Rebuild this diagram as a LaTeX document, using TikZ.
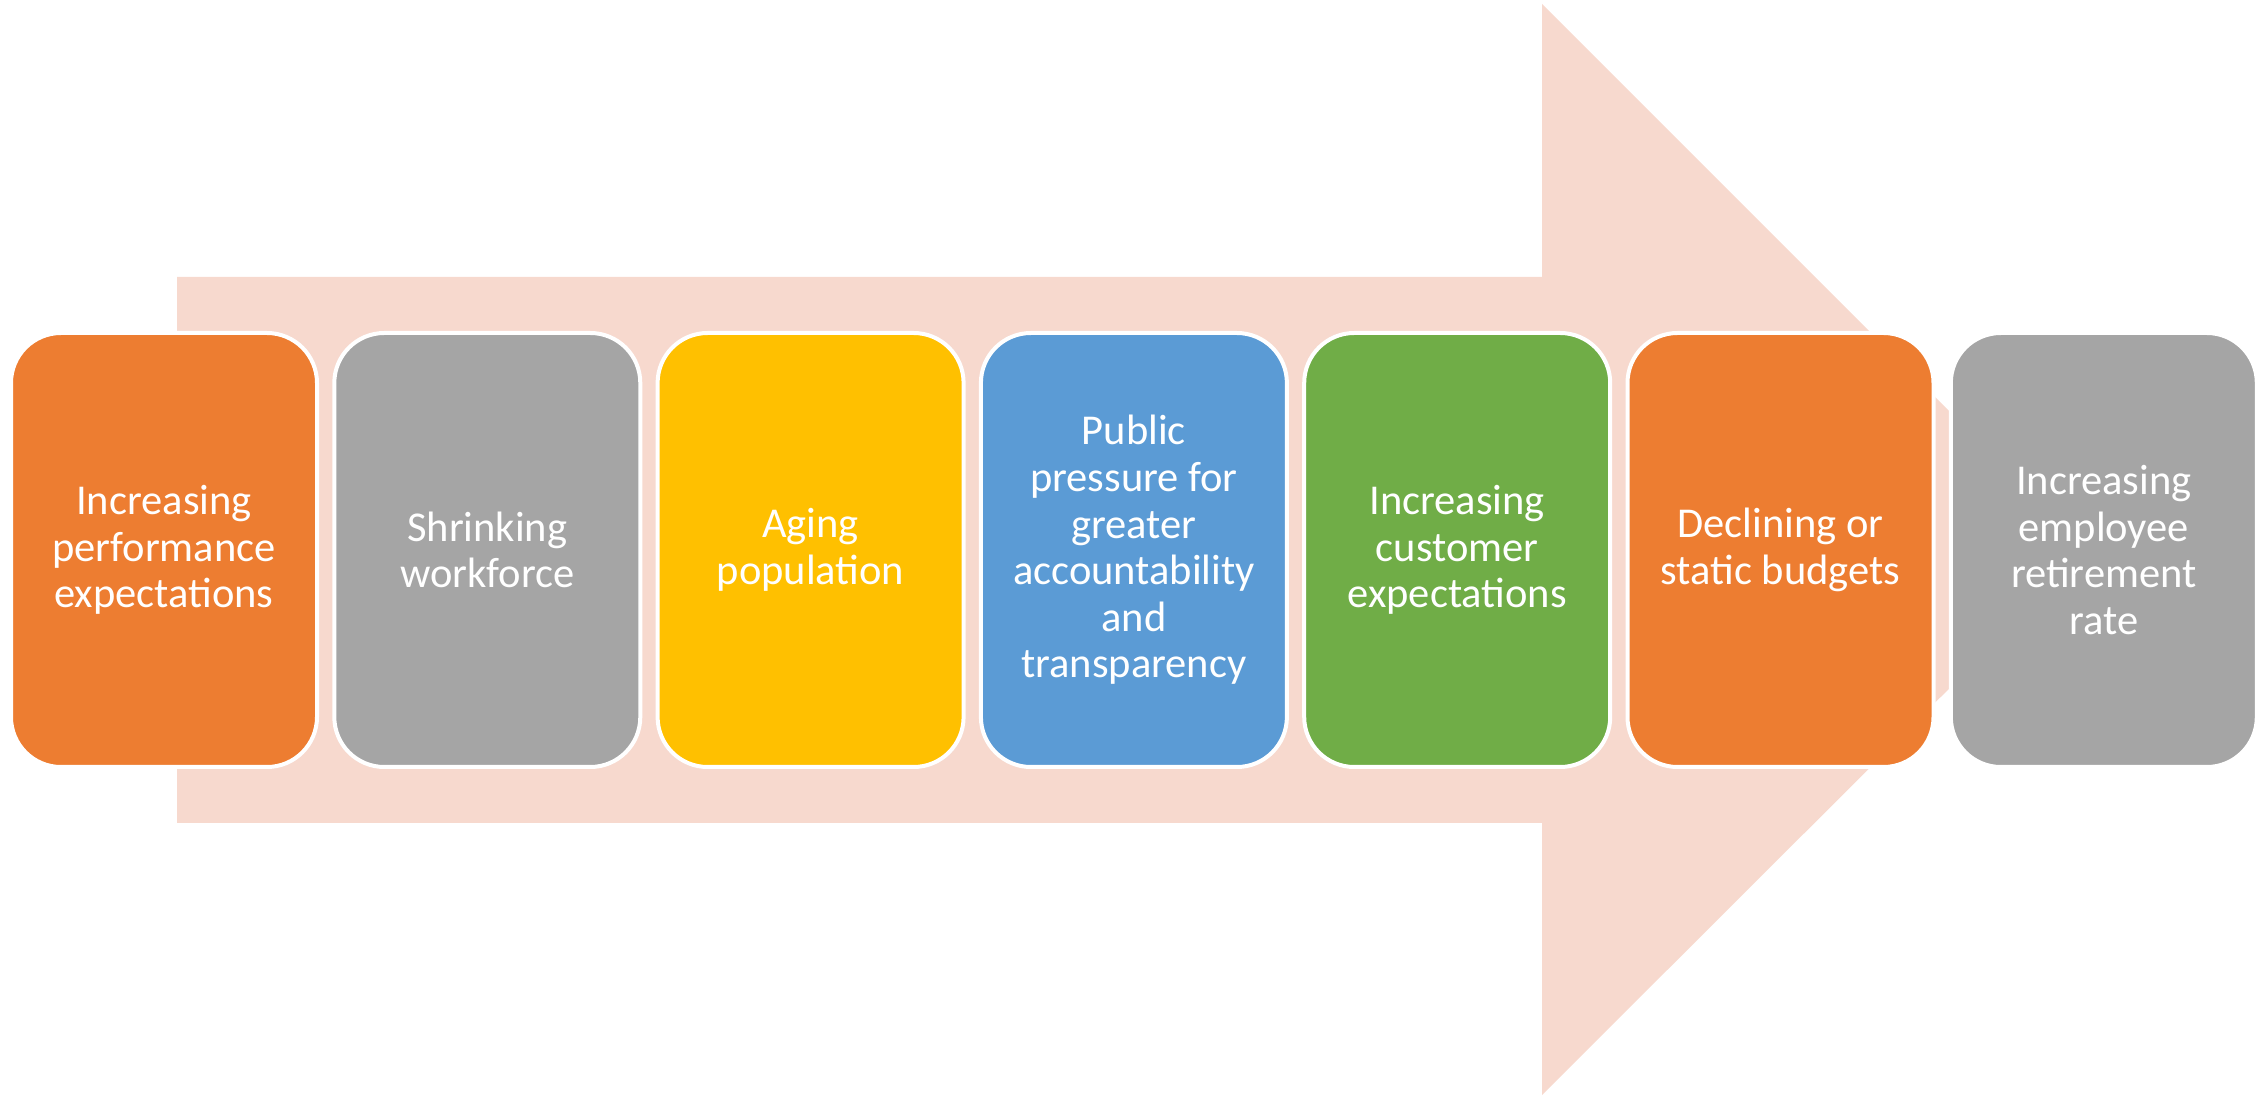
\documentclass[tikz,border=0pt]{standalone}
\usepackage{fontspec}
\setmainfont{Carlito}
\usetikzlibrary{positioning}

\definecolor{accorange}{RGB}{237,125,49}
\definecolor{accgray}{RGB}{165,165,165}
\definecolor{accyellow}{RGB}{255,192,0}
\definecolor{accblue}{RGB}{91,155,213}
\definecolor{accgreen}{RGB}{112,173,71}
\definecolor{arrowfill}{RGB}{247,217,206}

\begin{document}
\begin{tikzpicture}[
			x=1pt, y=1pt,
			node distance=17.3pt,
			driver/.style={
					draw=white,
					line width=4pt,
					rounded corners=50pt,
					text=white,
					align=center,
					inner sep=0pt,
					outer sep=0pt,
					minimum width=306pt,
					minimum height=434pt,
					font=\fontsize{42.5}{46.6}\selectfont
				}
		]

		\useasboundingbox (0,0) rectangle (2260,1096);

		% wide arrow behind the row
		\fill[arrowfill] (177,273) -- (1542,273) -- (1542,1)
		-- (2088,546) -- (1542,1092) -- (1542,819) -- (177,819) -- cycle;

		\node[driver, fill=accorange] (perf) at (164,546)
		{Increasing\\performance\\expectations};

		\node[driver, fill=accgray, right=of perf] (workforce)
		{Shrinking\\workforce};

		\node[driver, fill=accyellow, right=of workforce] (aging)
		{Aging\\population};

		\node[driver, fill=accblue, right=of aging] (public)
		{Public\\pressure for\\greater\\accountability\\and\\transparency};

		\node[driver, fill=accgreen, right=of public] (customer)
		{Increasing\\customer\\expectations};

		\node[driver, fill=accorange, right=of customer] (budgets)
		{Declining or\\static budgets};

		\node[driver, fill=accgray, right=of budgets] (retire)
		{Increasing\\employee\\retirement\\rate};

	\end{tikzpicture}
\end{document}
